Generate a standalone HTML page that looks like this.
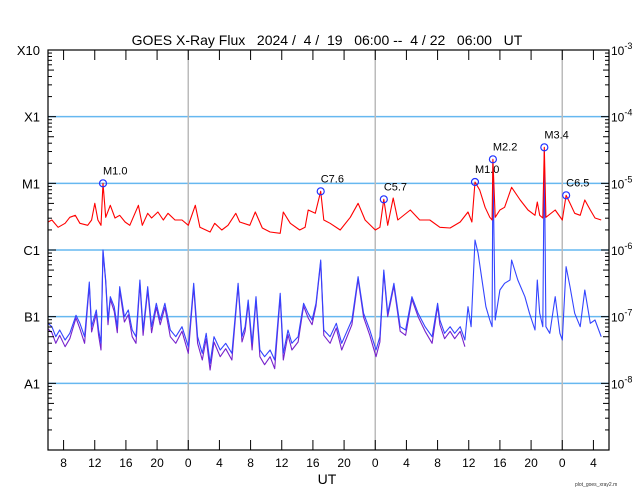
<!DOCTYPE html>
<html><head><meta charset="utf-8"><style>
html,body{margin:0;padding:0;background:#fff;}
svg{display:block;font-family:"Liberation Sans",sans-serif;}
</style></head><body>
<svg id="chart" width="640" height="500" viewBox="0 0 640 500" xmlns="http://www.w3.org/2000/svg">
<rect width="640" height="500" fill="#fff"/>
<text x="327" y="45" font-size="14" text-anchor="middle" fill="#000" xml:space="preserve">GOES X-Ray Flux   2024 /  4 /  19   06:00 --  4 / 22   06:00   UT</text>
<g id="grid"></g><g id="series"></g><g id="axes"></g><g id="flares"></g>
<text x="327" y="484" font-size="14" text-anchor="middle">UT</text>
<text x="575" y="486" font-size="5" fill="#333">plot_goes_xray2.m</text>
</svg>
<script>
const redT=[0,0.5,1.3,2.2,2.8,3.5,4.1,5.1,5.6,6.0,6.4,6.8,7.06,7.4,8.0,8.6,9.2,9.9,10.5,11.6,12.1,12.8,13.3,14.1,14.8,15.4,16.3,17.2,18.0,18.9,19.5,20.8,21.4,22.3,23.1,24.1,24.6,25.9,26.6,27.5,28.5,29.8,30.2,31.1,32.3,33.0,33.4,34.3,35.0,35.4,36.2,37.5,38.8,39.8,40.7,42.0,42.6,43.1,43.6,44.3,44.9,46.5,47.7,49.0,50.3,51.6,52.9,53.9,54.4,54.8,55.4,56.1,56.7,57.0,57.1,57.4,58.0,58.6,59.5,60.6,61.6,62.5,62.8,63.1,63.5,63.7,63.9,65.1,66.0,66.5,67.0,67.6,68.3,68.9,69.6,70.2,71.0];
const redV=[-5.58,-5.55,-5.66,-5.60,-5.51,-5.48,-5.60,-5.63,-5.55,-5.30,-5.55,-5.63,-5.00,-5.51,-5.33,-5.52,-5.48,-5.58,-5.63,-5.33,-5.63,-5.45,-5.52,-5.43,-5.55,-5.45,-5.55,-5.55,-5.63,-5.33,-5.66,-5.73,-5.60,-5.70,-5.63,-5.45,-5.58,-5.63,-5.43,-5.67,-5.73,-5.75,-5.43,-5.60,-5.70,-5.66,-5.40,-5.45,-5.12,-5.55,-5.60,-5.70,-5.51,-5.30,-5.55,-5.70,-5.66,-5.24,-5.63,-5.22,-5.55,-5.40,-5.55,-5.55,-5.66,-5.67,-5.58,-5.43,-5.58,-4.98,-5.10,-5.36,-5.51,-5.55,-4.64,-5.51,-5.40,-5.36,-5.06,-5.25,-5.40,-5.48,-5.28,-5.48,-5.52,-4.46,-5.51,-5.40,-5.55,-5.18,-5.30,-5.45,-5.48,-5.25,-5.40,-5.52,-5.55];
const blueT=[0,0.5,1.0,1.5,2.2,2.8,3.6,4.1,4.7,5.3,5.6,6.2,6.5,6.8,7.06,7.4,7.7,8.0,8.5,8.9,9.2,9.8,10.3,10.8,11.3,11.8,12.2,12.8,13.3,13.9,14.4,15.0,15.7,16.4,17.2,18.0,18.7,19.2,19.8,20.3,20.8,21.3,22.1,22.8,23.6,24.4,24.9,25.3,25.7,26.2,26.7,27.2,27.8,28.5,29.1,29.8,30.2,30.8,31.3,32.1,32.8,33.4,33.9,34.4,35.0,35.4,36.2,37.0,37.7,39.0,39.8,40.5,41.3,42.1,42.6,43.1,43.6,44.4,45.2,45.9,46.7,47.5,48.4,49.3,50.0,50.3,50.9,51.6,52.2,52.9,53.5,53.9,54.3,54.8,55.2,55.7,56.2,56.7,57.0,57.1,57.4,58.0,58.6,59.3,59.5,60.3,61.2,61.8,62.5,62.8,63.1,63.5,63.7,63.9,64.4,65.1,65.7,66.0,66.5,67.0,67.6,68.3,68.9,69.6,70.2,71.0];
const blueV=[-7.10,-7.15,-7.30,-7.20,-7.35,-7.25,-6.98,-7.10,-7.30,-6.48,-7.15,-6.90,-7.20,-7.40,-6.00,-6.45,-7.05,-6.70,-6.85,-7.15,-6.55,-7.00,-6.90,-7.20,-7.30,-6.45,-7.20,-6.55,-7.15,-6.80,-7.05,-6.80,-7.20,-7.30,-7.15,-7.45,-6.50,-7.30,-7.55,-7.25,-7.70,-7.30,-7.50,-7.40,-7.55,-6.50,-7.30,-7.15,-6.75,-7.40,-6.70,-7.50,-7.60,-7.50,-7.65,-6.65,-7.55,-7.20,-7.40,-7.30,-6.80,-6.95,-7.05,-6.80,-6.15,-7.20,-7.30,-7.10,-7.40,-7.05,-6.40,-6.95,-7.20,-7.50,-7.30,-6.30,-6.95,-6.50,-7.15,-7.20,-6.70,-6.95,-7.15,-7.30,-6.80,-7.05,-7.25,-7.15,-7.25,-7.15,-7.35,-6.85,-7.15,-5.85,-6.05,-6.45,-6.85,-7.05,-7.15,-4.70,-7.05,-6.60,-6.50,-6.45,-6.15,-6.45,-6.70,-6.95,-7.20,-6.45,-6.95,-7.15,-4.50,-7.15,-7.25,-6.70,-7.25,-7.35,-6.25,-6.55,-6.95,-7.15,-6.60,-7.10,-7.05,-7.30];
const purpleT=[0,0.5,1.0,1.5,2.2,2.8,3.6,4.1,4.7,5.3,5.6,6.2,6.5,6.8,7.06,7.4,7.7,8.0,8.5,8.9,9.2,9.8,10.3,10.8,11.3,11.8,12.2,12.8,13.3,13.9,14.4,15.0,15.7,16.4,17.2,18.0,18.7,19.2,19.8,20.3,20.8,21.3,22.1,22.8,23.6,24.4,24.9,25.3,25.7,26.2,26.7,27.2,27.8,28.5,29.1,29.8,30.2,30.8,31.3,32.1,32.8,33.4,33.9,34.4,35.0,35.4,36.2,37.0,37.7,39.0,39.8,40.5,41.3,42.1,42.6,43.1,43.6,44.4,45.2,45.9,46.7,47.5,48.4,49.3,50.0,50.3,50.9,51.6,52.2,52.9,53.5];
const purpleV=[-7.18,-7.24,-7.40,-7.28,-7.45,-7.33,-7.02,-7.18,-7.40,-6.52,-7.23,-6.96,-7.28,-7.50,-6.02,-6.48,-7.12,-6.74,-6.92,-7.24,-6.60,-7.08,-6.97,-7.30,-7.40,-6.50,-7.28,-6.60,-7.24,-6.86,-7.12,-6.86,-7.30,-7.40,-7.22,-7.55,-6.55,-7.40,-7.65,-7.33,-7.80,-7.38,-7.60,-7.48,-7.65,-6.54,-7.38,-7.22,-6.80,-7.50,-6.75,-7.60,-7.72,-7.60,-7.78,-6.70,-7.65,-7.27,-7.50,-7.38,-6.84,-7.02,-7.12,-6.84,-6.18,-7.28,-7.40,-7.17,-7.50,-7.12,-6.44,-7.01,-7.28,-7.60,-7.38,-6.34,-7.00,-6.54,-7.22,-7.28,-6.74,-7.00,-7.22,-7.40,-6.84,-7.12,-7.33,-7.22,-7.33,-7.22,-7.45];
const flareT=[7.06,35.0,43.1,54.8,57.1,63.7,66.5];
const flareV=[-5.00,-5.12,-5.24,-4.98,-4.64,-4.46,-5.18];
const flareLabels=["M1.0","C7.6","C5.7","M1.0","M2.2","M3.4","C6.5"];
const yClassLabels=["X10","X1","M1","C1","B1","A1"];
const yPowLabels=["-3","-4","-5","-6","-7","-8"];
const xTickLabels=["8","12","16","20","0","4","8","12","16","20","0","4","8","12","16","20","0","4"];

const L=48,R=609,T=50,B=450,HOURS=72;
const xs=h=>L+h*(R-L)/HOURS;
const ys=v=>T+(-3-v)*(B-T)/6;
const NS="http://www.w3.org/2000/svg";
function mk(tag,attrs,parent){const e=document.createElementNS(NS,tag);for(const k in attrs)e.setAttribute(k,attrs[k]);parent.appendChild(e);return e;}
const grid=document.getElementById('grid'),series=document.getElementById('series'),axes=document.getElementById('axes'),flares=document.getElementById('flares');

for(let i=1;i<=5;i++){const y=ys(-3-i);const l=mk('line',{x1:L,x2:R,y1:y,y2:y,stroke:'#66b8f0','stroke-width':1.5},grid);

}
for(const d of [18,42,66]){const l=mk('line',{x1:xs(d),x2:xs(d),y1:T,y2:B,stroke:'#bbb','stroke-width':1.5},grid);

}

function drawSeries(t,v,color,name){const p=t.map((h,i)=>(i?'L':'M')+xs(h).toFixed(1)+' '+ys(v[i]).toFixed(1)).join(' ');
const e=mk('path',{d:p,fill:'none',stroke:color,'stroke-width':1.1,'stroke-linejoin':'round'},series);

}
drawSeries(purpleT,purpleV,'#7722cc','short-channel-secondary-line');
drawSeries(blueT,blueV,'#3344ff','short-channel-line');
drawSeries(redT,redV,'#ff0000','long-channel-line');

const fr=mk('rect',{x:L,y:T,width:R-L,height:B-T,fill:'none',stroke:'#000','stroke-width':1.2},axes);


for(let d=0;d<6;d++){for(let m=1;m<=9;m++){const y=ys(-3-d-1+Math.log10(m));const len=m===1?8:(m===5?6:4);
mk('line',{x1:L,x2:L+len,y1:y,y2:y,stroke:'#000'},axes);mk('line',{x1:R-len,x2:R,y1:y,y2:y,stroke:'#000'},axes);}}
for(let i=0;i<6;i++){const y=ys(-3-i);
const t=mk('text',{x:40,y:y+5,'font-size':13,'text-anchor':'end'},axes);t.textContent=yClassLabels[i];


const r=mk('text',{x:611,y:y+5,'font-size':12},axes);r.textContent='10';
const s=mk('tspan',{dy:-6,'font-size':9},r);s.textContent=yPowLabels[i];

}
for(let i=0;i<xTickLabels.length;i++){const h=2+4*i;const x=xs(h);
mk('line',{x1:x,x2:x,y1:B,y2:B-10,stroke:'#000'},axes);mk('line',{x1:x,x2:x,y1:T,y2:T+10,stroke:'#000'},axes);
const t=mk('text',{x:x,y:467,'font-size':12,'text-anchor':'middle'},axes);t.textContent=xTickLabels[i];

}

for(let i=0;i<flareT.length;i++){const x=xs(flareT[i]),y=ys(flareV[i]);
const c=mk('circle',{cx:x,cy:y,r:3.5,fill:'none',stroke:'#2233ff','stroke-width':1.2},flares);


const t=mk('text',{x:x,y:y-9,'font-size':11},flares);t.textContent=flareLabels[i];

}
</script>
</body></html>
